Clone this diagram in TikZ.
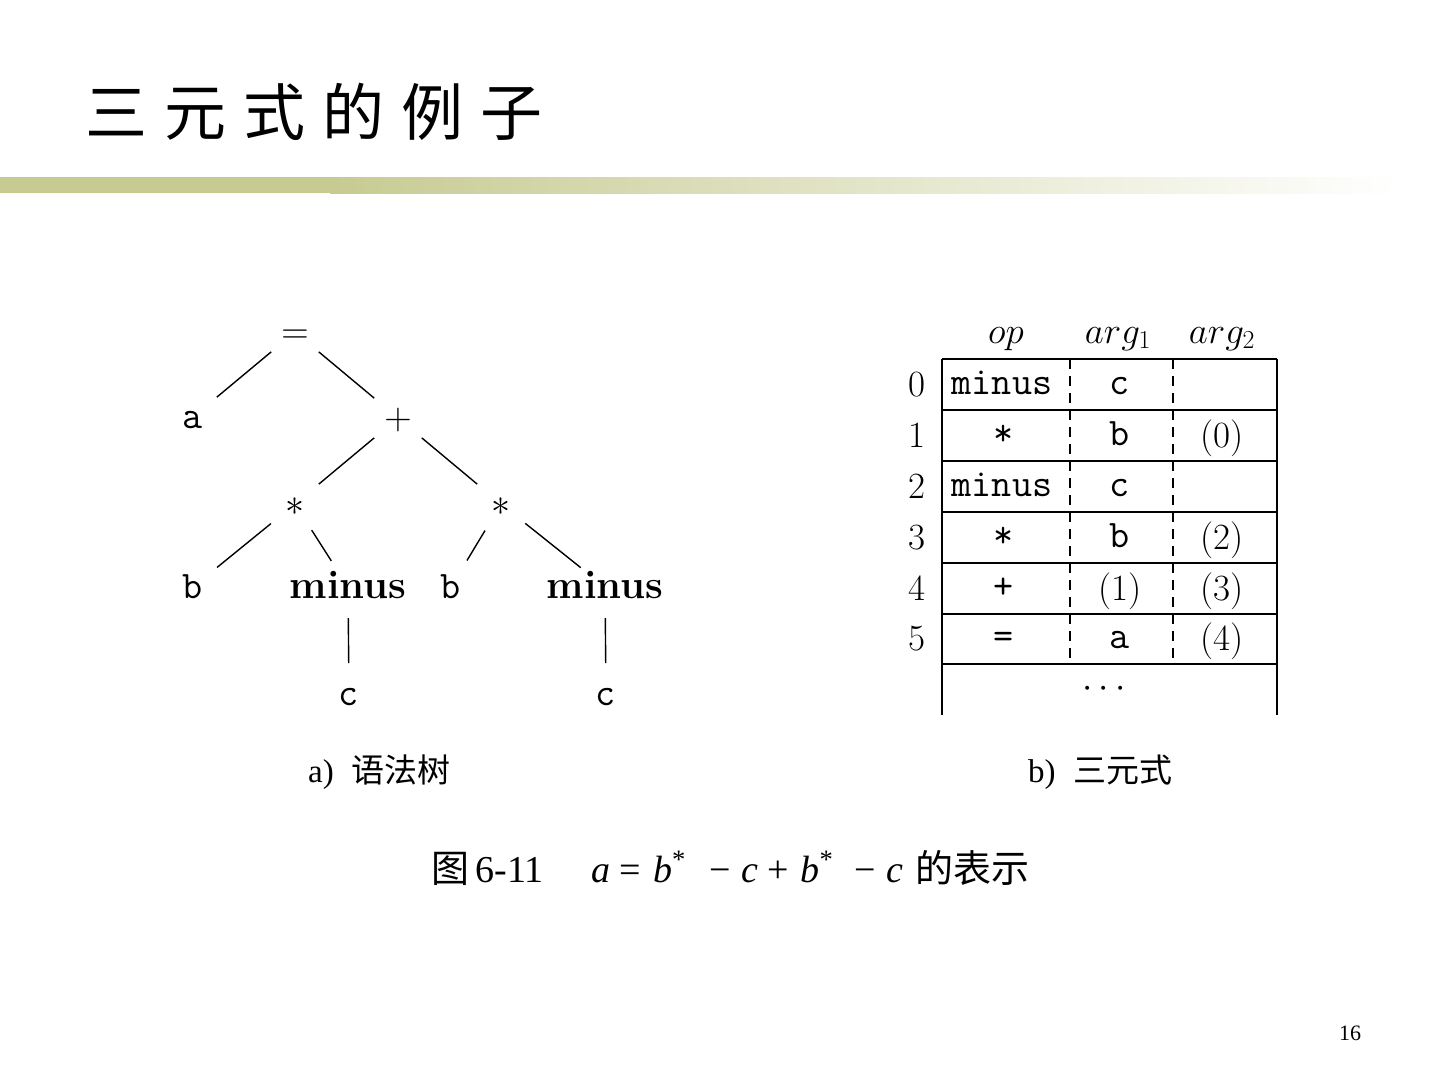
\documentclass[tikz,border=0pt]{standalone}
\usepackage{fix-cm}
\usepackage{fontspec}
\setmainfont{Latin Modern Roman}
\setmonofont{Latin Modern Mono}
\newfontfamily\cjk{Noto Sans CJK SC}
\newfontfamily\timesf{Liberation Serif}
\definecolor{barcol}{RGB}{199,203,146}
\tikzset{
  tnode/.style={inner sep=0pt, text height=22pt, text depth=0pt, anchor=center},
  tedge/.style={line width=1.4pt, shorten <=31pt, shorten >=31pt},
  ttf/.style={font=\ttfamily\fontsize{39}{44}\selectfont},
  bff/.style={font=\bfseries\fontsize{40}{46}\selectfont},
  mathf/.style={font=\fontsize{38}{44}\selectfont},
  rmt/.style={font=\fontsize{37}{42}\selectfont},
  cell/.style={anchor=base, inner sep=0pt},
  tline/.style={line width=1.4pt},
  dline/.style={line width=1.4pt, dash pattern=on 10pt off 7pt}
}
\begin{document}
\begin{tikzpicture}[x=1pt,y=-1pt]
\useasboundingbox (0,0) rectangle (1440,1080);
\fill[white] (0,0) rectangle (1440,1080);
% title
\node[anchor=west, inner sep=0pt, font=\cjk\fontsize{62}{70}\selectfont] (title) at (85,112)
  {三\hspace{17pt}元\hspace{17pt}式\hspace{17pt}的\hspace{17pt}例\hspace{17pt}子};
% bar
\fill[barcol] (0,177) rectangle (331,193);
\shade[left color=barcol, right color=white] (330,177) rectangle (1400,193);
% tree
\node[tnode, mathf] (eq) at (295,332) {$=$};
\node[tnode, ttf] (a) at (193,417) {a};
\node[tnode, mathf] (plus) at (398,418) {$+$};
\node[tnode, mathf] (s1) at (295,504) {$\ast$};
\node[tnode, mathf] (s2) at (501,504) {$\ast$};
\node[tnode, ttf] (b1) at (193,587) {b};
\node[tnode, bff] (m1) at (348,587) {minus};
\node[tnode, ttf] (b2) at (451,587) {b};
\node[tnode, bff] (m2) at (605,587) {minus};
\node[tnode, ttf] (c1) at (349,694) {c};
\node[tnode, ttf] (c2) at (606,694) {c};
\draw[tedge] (eq.center) -- (a.center);
\draw[tedge] (eq.center) -- (plus.center);
\draw[tedge] (plus.center) -- (s1.center);
\draw[tedge] (plus.center) -- (s2.center);
\draw[tedge] (s1.center) -- (b1.center);
\draw[tedge] (s1.center) -- (m1.center);
\draw[tedge] (s2.center) -- (b2.center);
\draw[tedge] (s2.center) -- (m2.center);
\draw[tedge] (m1.center) -- (c1.center);
\draw[tedge] (m2.center) -- (c2.center);
% table
\foreach \yy in {359,410,461,512,563,614,664} \draw[tline] (942,\yy) -- (1277,\yy);
\draw[tline] (942,359) -- (942,715);
\draw[tline] (1277,359) -- (1277,715);
\draw[dline] (1070,359) -- (1070,664);
\draw[dline] (1173,359) -- (1173,664);
% header
\node[cell, rmt] (hop) at (1006,343) {$op$};
\node[cell, rmt] (harg1) at (1118,343) {$arg_1$};
\node[cell, rmt] (harg2) at (1222,343) {$arg_2$};
% row numbers
\node[cell, rmt] (r0) at (917,396) {0};
\node[cell, rmt] (r1) at (917,447) {1};
\node[cell, rmt] (r2) at (917,498) {2};
\node[cell, rmt] (r3) at (917,549) {3};
\node[cell, rmt] (r4) at (917,600) {4};
\node[cell, rmt] (r5) at (917,650) {5};
% cells
\node[cell, ttf] (op0) at (1002,394) {minus};
\node[cell, ttf] (a10) at (1120,394) {c};
\node[cell, ttf] (op1) at (1004,445) {*};
\node[cell, ttf] (a11) at (1120,445) {b};
\node[cell, rmt] (a21) at (1222,447) {(0)};
\node[cell, ttf] (op2) at (1002,496) {minus};
\node[cell, ttf] (a12) at (1120,496) {c};
\node[cell, ttf] (op3) at (1004,547) {*};
\node[cell, ttf] (a13) at (1120,547) {b};
\node[cell, rmt] (a23) at (1222,549) {(2)};
\node[cell, ttf] (op4) at (1004,598) {+};
\node[cell, rmt] (a14) at (1120,600) {(1)};
\node[cell, rmt] (a24) at (1222,600) {(3)};
\node[cell, ttf] (op5) at (1004,648) {=};
\node[cell, ttf] (a15) at (1120,648) {a};
\node[cell, rmt] (a25) at (1222,650) {(4)};
\node[cell, rmt] (dots) at (1104,697) {$\cdots$};
% sub captions
\node[anchor=west, inner sep=0pt, font=\timesf\fontsize{33}{38}\selectfont] (capa) at (308,772)
  {a)\hspace{18pt}{\cjk\fontsize{33}{38}\selectfont 语法树}};
\node[anchor=west, inner sep=0pt, font=\timesf\fontsize{33}{38}\selectfont] (capb) at (1028,772)
  {b)\hspace{18pt}{\cjk\fontsize{33}{38}\selectfont 三元式}};
% main caption
\node[anchor=west, inner sep=0pt, font=\timesf\fontsize{38}{44}\selectfont] (cap) at (431,868)
  {{\cjk 图}\,6-11\hspace{48pt}\textit{a}\hspace{9pt}=\hspace{12pt}\textit{b}\textsuperscript{*}\hspace{23pt}−\hspace{11pt}\textit{c}\hspace{9pt}+\hspace{12pt}\textit{b}\textsuperscript{*}\hspace{21pt}−\hspace{11pt}\textit{c}\hspace{12pt}{\cjk 的表示}};
% page number
\node[inner sep=0pt, font=\timesf\fontsize{22}{26}\selectfont] (page) at (1350,1033) {16};
\end{tikzpicture}
\end{document}
